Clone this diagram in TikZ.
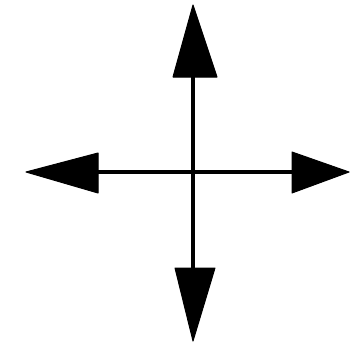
\documentclass[tikz,border=0pt]{standalone}
\begin{document}
\begin{tikzpicture}[x=1pt,y=-1pt,
  shaft/.style={line width=3.5pt},
  head/.style={fill=black,draw=black,line width=1pt,line join=round}]
\useasboundingbox (0,0) rectangle (352,356);
\fill[white] (0,0) rectangle (352,356);
\coordinate (c) at (193,172);
\coordinate (t) at (193,5);
\coordinate (b) at (193,341);
\coordinate (l) at (26,172);
\coordinate (r) at (349,172);
% shafts
\draw[shaft] (193,70) -- (193,275);
\draw[shaft] (92,172) -- (297,172);
% heads
\draw[head] (t) -- (217,77) -- (173,77) -- cycle;
\draw[head] (b) -- (175,268) -- (215,268) -- cycle;
\draw[head] (l) -- (98,153) -- (98,193) -- cycle;
\draw[head] (r) -- (292,152) -- (292,193) -- cycle;
\end{tikzpicture}
\end{document}
